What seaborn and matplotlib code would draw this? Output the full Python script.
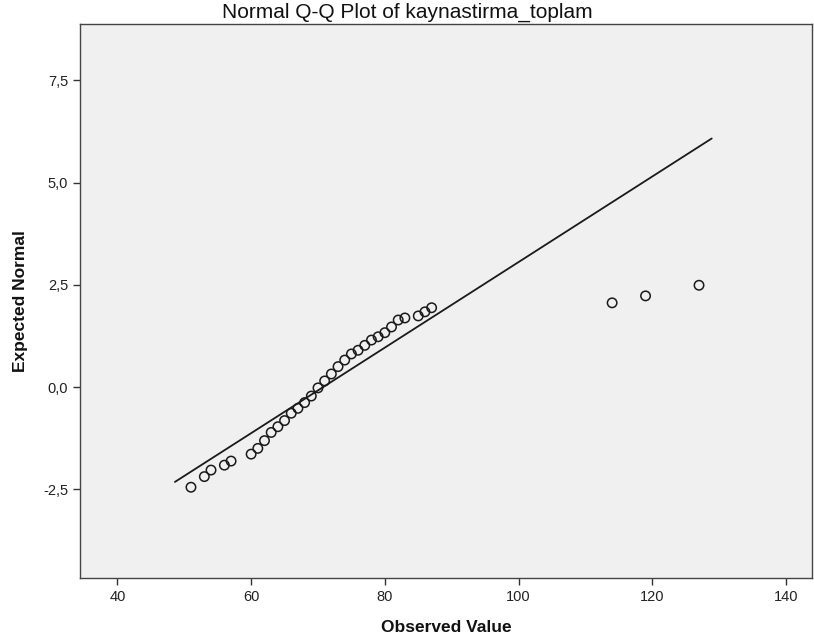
import matplotlib
matplotlib.use("Agg")
import matplotlib.pyplot as plt
import pandas as pd
import seaborn as sns

observed = [51, 53, 54, 56, 57, 60, 61, 62, 63, 64, 65, 66, 67, 68, 69, 70, 71, 72,
            73, 74, 75, 76, 77, 78, 79, 80, 81, 82, 83, 85, 86, 87, 114, 119, 127]
expected = [-2.45, -2.19, -2.03, -1.91, -1.81, -1.64, -1.50, -1.31, -1.11, -0.97,
            -0.82, -0.64, -0.52, -0.38, -0.22, -0.02, 0.15, 0.32, 0.50, 0.66, 0.81,
            0.90, 1.02, 1.15, 1.23, 1.33, 1.47, 1.64, 1.69, 1.74, 1.84, 1.94,
            2.06, 2.23, 2.49]

# Reference line end points
line_x = [48.6, 128.9]
line_y = [-2.32, 6.08]

x_ticks = [40, 60, 80, 100, 120, 140]
y_ticks = [-2.5, 0.0, 2.5, 5.0, 7.5]
y_tick_labels = ["-2,5", "0,0", "2,5", "5,0", "7,5"]

sns.set_style("white")
plt.rcParams["font.family"] = ["Liberation Sans Narrow", "Liberation Sans", "DejaVu Sans"]

df = pd.DataFrame({"Observed Value": observed, "Expected Normal": expected})
df_line = pd.DataFrame({"x": line_x, "y": line_y})

fig = plt.figure(figsize=(8.14, 6.4), dpi=100)
ax = fig.add_axes([80 / 814, 1 - 578 / 640, 732 / 814, 554 / 640])
ax.set_facecolor("#F0F0F0")

sns.lineplot(data=df_line, x="x", y="y", ax=ax, color="#1a1a1a", linewidth=1.3)
sns.scatterplot(
    data=df,
    x="Observed Value",
    y="Expected Normal",
    ax=ax,
    marker="o",
    s=46,
    facecolor="none",
    edgecolor="#1a1a1a",
    linewidth=1.1,
    zorder=3,
)

ax.set_xlim(34.4, 143.9)
ax.set_ylim(-4.67, 8.88)
ax.set_xticks(x_ticks)
ax.set_xticklabels([str(t) for t in x_ticks])
ax.set_yticks(y_ticks)
ax.set_yticklabels(y_tick_labels)
ax.tick_params(direction="out", length=5, width=1, color="#333333",
               labelsize=10.5, labelcolor="#222222", left=True, bottom=True)

for spine in ax.spines.values():
    spine.set_color("#444444")
    spine.set_linewidth(1.0)

# Title is centred on the whole figure, as in the original
fig.text(0.5, 1 - 12 / 640, "Normal Q-Q Plot of kaynastirma_toplam",
         ha="center", va="center", fontsize=15, color="#111111")
ax.set_xlabel("Observed Value", fontsize=12.5, fontweight="bold", color="#111111", labelpad=12)
ax.set_ylabel("Expected Normal", fontsize=12.5, fontweight="bold", color="#111111", labelpad=11)

plt.savefig("out.png", dpi=100)
plt.close()
